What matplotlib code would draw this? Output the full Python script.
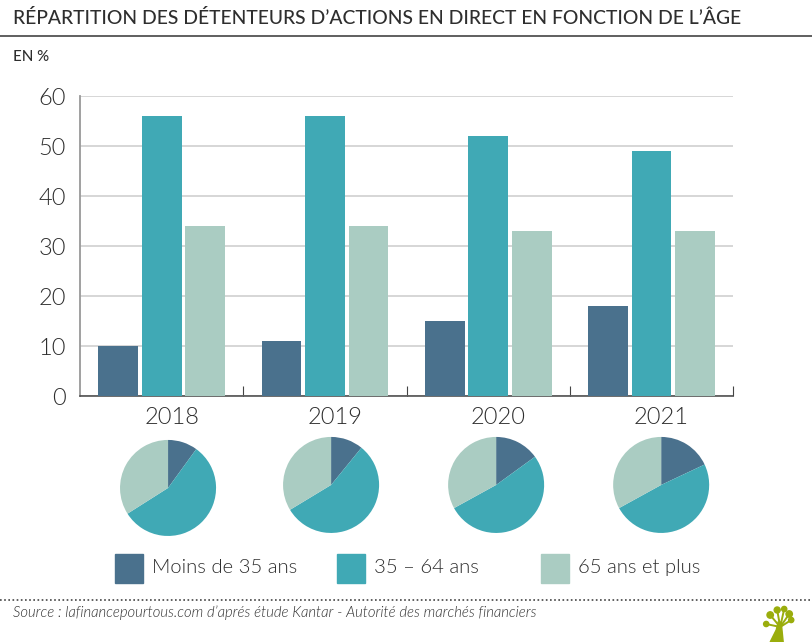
# -*- coding: utf-8 -*-
# Detenteurs d'actions par age : barres + camemberts

import matplotlib
matplotlib.use("Agg")
from matplotlib import pyplot as plt
from matplotlib import font_manager as fm
from matplotlib.patches import Rectangle, Circle, Polygon

W, H = 812, 642

years = ["2018", "2019", "2020", "2021"]
young = [10, 11, 15, 18]
middle = [56, 56, 52, 49]
old = [34, 34, 33, 33]
y_ticks = [0, 10, 20, 30, 40, 50, 60]
legend_labels = ["Moins de 35 ans", "35 – 64 ans", "65 ans et plus"]

colors = ["#4a718d", "#40a9b5", "#aaccc2"]
dark = "#2e2e2e"
green = "#9aad0c"


# Look for the Lato cut by file name, weights by number pick the wrong one here
def lato(tag, **fallback):
    for f in fm.fontManager.ttflist:
        if f.name.startswith("Lato") and f.fname.endswith("Lato-" + tag + ".ttf"):
            return fm.FontProperties(fname=f.fname)
    return fm.FontProperties(family="Lato", **fallback)


light = lato("Light")
light_it = lato("LightItalic", style="italic")
medium = lato("Medium", weight="medium")

fig = plt.figure(figsize=((W+0.2)/100, (H+0.2)/100), dpi=100)
fig.patch.set_facecolor("white")


# helper: axes placed with pixel coordinates (top-left origin)
def px_axes(x0, y0, x1, y1):
    return fig.add_axes([x0/W, 1-y1/H, (x1-x0)/W, (y1-y0)/H])


def px_text(x, y, s, prop, size, **kw):
    p = prop.copy()
    p.set_size(size)
    fig.text(x/W, 1-y/H, s, fontproperties=p, va="center", **kw)


#Title and header rule
px_text(13, 18, "RÉPARTITION DES DÉTENTEURS D’ACTIONS EN DIRECT EN FONCTION DE L’ÂGE",
        medium, 13.9, color=dark)
fig.add_artist(plt.Line2D([0, 1], [1-36/H, 1-36/H], color="#444444", lw=1.2))
px_text(13, 57, "EN %", medium, 10.8, color=dark)

#Bar chart
ax = px_axes(80, 96.5, 733, 396.5)
ax.set_xlim(0, 4)
ax.set_ylim(0, 60)
width = 0.243
gap = 0.266
for i in range(4):
    c = i + 0.5
    ax.bar(c-gap, young[i], width, color=colors[0], zorder=3)
    ax.bar(c, middle[i], width, color=colors[1], zorder=3)
    ax.bar(c+gap, old[i], width, color=colors[2], zorder=3)

ax.set_yticks(y_ticks)
ax.set_yticklabels(y_ticks, color=dark)
for lab in ax.get_yticklabels():
    lab.set_fontproperties(light)
    lab.set_fontsize(17)
ax.set_xticks([1, 2, 3, 4])
ax.set_xticklabels([])
ax.tick_params(axis="y", length=0, pad=10)
ax.tick_params(axis="x", direction="in", length=7, width=0.8, color="#444444")
ax.grid(axis="y", color="#cfcfcf", lw=1.2, zorder=1)
ax.set_axisbelow(True)
for s in ["top", "right"]:
    ax.spines[s].set_visible(False)
ax.spines["left"].set_color("#999999")
ax.spines["left"].set_linewidth(1.3)
ax.spines["bottom"].set_color("#444444")
ax.spines["bottom"].set_linewidth(1.1)

#Year labels and pies
pie_x = [168, 331, 496, 661]
pie_y = [488, 485, 485, 485]
label_x = [172, 335, 498, 661]
radius = 48
for i in range(4):
    px_text(label_x[i], 417, years[i], light, 17, color=dark, ha="center")
    pax = px_axes(pie_x[i]-radius, pie_y[i]-radius, pie_x[i]+radius, pie_y[i]+radius)
    pax.pie([young[i], middle[i], old[i]], colors=colors, startangle=90, counterclock=False,
            radius=1, wedgeprops={"linewidth": 0})
    pax.set_xlim(-1, 1)
    pax.set_ylim(-1, 1)

#Legend
legend_x = [115, 337, 541]
for i in range(3):
    fig.add_artist(Rectangle((legend_x[i]/W, 1-583/H), 28/W, 29/H, color=colors[i],
                             transform=fig.transFigure))
    px_text(legend_x[i]+37, 567, legend_labels[i], light, 14.6, color=dark)

#Footer
fig.add_artist(plt.Line2D([0, 1], [1-600.5/H, 1-600.5/H], color="#444444", lw=1.2, ls=(0, (1, 1.5))))
px_text(13, 612, "Source : lafinancepourtous.com d’aprés étude Kantar - Autorité des marchés financiers",
        light_it, 10.7, color=dark)

#Little tree logo
logo = px_axes(756, 602, 806, 642)
logo.set_xlim(756, 806)
logo.set_ylim(642, 602)
logo.axis("off")
logo.add_patch(Polygon([(770, 642), (776, 630), (778, 622), (781, 622), (783, 642)], color=green))
for bx, by, r in [(766, 624, 2.6), (770, 615, 3.2), (777, 610, 3.0), (784, 609, 2.6), (789, 614, 3.2), (791, 620, 2.6)]:
    logo.add_patch(Circle((bx, by), r, color=green))
    logo.plot([780, bx], [627, by], color=green, lw=1.4)

fig.savefig("out.png", dpi=100)
